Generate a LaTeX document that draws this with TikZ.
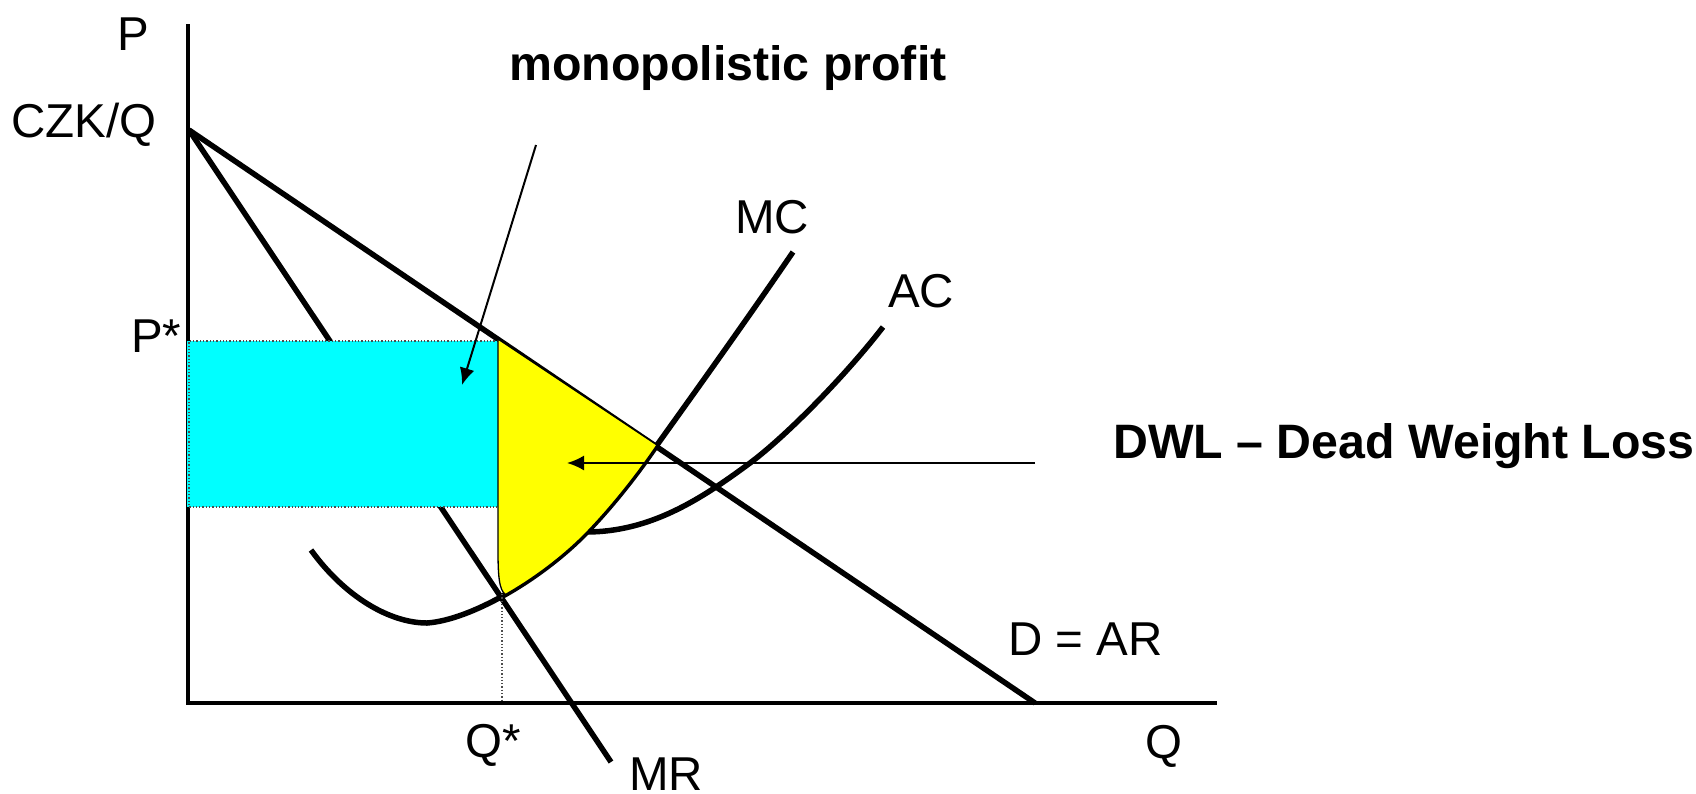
\documentclass[tikz,border=0pt]{standalone}
\usepackage{fontspec}
\setmainfont{Liberation Sans}
\usetikzlibrary{arrows.meta}
\definecolor{profitcyan}{RGB}{0,255,255}
\definecolor{dwlyellow}{RGB}{255,255,0}
\begin{document}
\begin{tikzpicture}[x=1pt,y=-1pt,
  curve/.style={line width=5.5pt, line join=round},
  axisline/.style={line width=3.2pt},
  lbl/.style={inner sep=0pt, anchor=base west, font=\fontsize{47.5}{56}\selectfont},
  blbl/.style={inner sep=0pt, anchor=base west, font=\fontsize{48.3}{56}\selectfont\bfseries},
  pointer/.style={line width=2pt, -{Latex[length=17pt,width=15pt]}},
  guide/.style={line width=1.3pt, dotted, black!70}]
\useasboundingbox (0,0) rectangle (1696,793);
% axes
\coordinate (ytop) at (188,24);
\coordinate (orig) at (188,703);
\coordinate (xend) at (1217,703);
\draw[axisline] (ytop) -- (orig) -- (xend);
% demand and MR
\coordinate (pmax) at (189,130);
\coordinate (dend) at (1035,703);
\coordinate (mrend) at (611,762);
\draw[curve] (pmax) -- (dend);
\draw[curve] (pmax) -- (mrend);
% MC
\draw[curve] (311,550) .. controls (345,597) and (390,623) .. (427,623)
  .. controls (470,620) and (540,580) .. (586,533)
  .. controls (615,503) and (640,470) .. (657,445)
  .. controls (700,385) and (750,315) .. (793,252);
% AC
\draw[curve] (586,532) .. controls (650,532) and (700,500) .. (750,463)
  .. controls (790,433) and (850,370) .. (883,327);
% profit rectangle
\fill[profitcyan] (187,341) rectangle (498,507);
\draw[guide] (498,341) -- (189,341) -- (189,507) -- (498,507);
% DWL
\filldraw[fill=dwlyellow, draw=black, line width=1.3pt] (498,339) -- (657,445)
  .. controls (640,470) and (615,503) .. (586,533)
  .. controls (563,556.5) and (534,578.25) .. (505.4,594.5)
  .. controls (499,590) and (498,575) .. (498,550) -- cycle;
% Q* guide
\draw[guide] (502,594) -- (502,702);
% arrows
\coordinate (mpS) at (536,145);
\coordinate (mpT) at (462,385);
\draw[pointer] (mpS) -- (mpT);
\coordinate (dwS) at (1035,463);
\coordinate (dwT) at (567,463);
\draw[pointer] (dwS) -- (dwT);
% labels
\node[lbl] (lP) at (117,50) {P};
\node[lbl] (lCZK) at (11,137) {CZK/Q};
\node[lbl] (lPs) at (131,352) {P*};
\node[lbl] (lMC) at (735,233) {MC};
\node[lbl] (lAC) at (888,307) {AC};
\node[lbl] (lD) at (1008,655) {D = AR};
\node[lbl] (lQ) at (1145,758) {Q};
\node[lbl] (lQs) at (465,757) {Q*};
\node[lbl] (lMR) at (629,790) {MR};
\node[blbl] (lmp) at (509,80) {monopolistic profit};
\node[blbl] (ldwl) at (1113,458) {DWL – Dead Weight Loss};
\end{tikzpicture}
\end{document}
